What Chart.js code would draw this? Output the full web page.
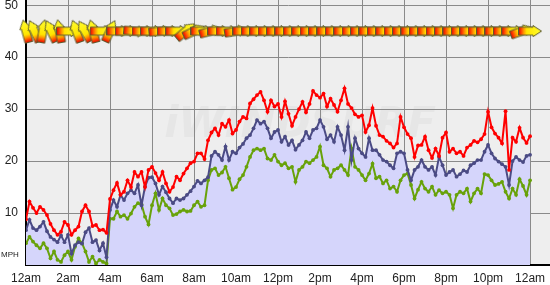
<!DOCTYPE html>
<html>
<head>
<meta charset="utf-8">
<script src="https://cdn.jsdelivr.net/npm/chart.js@4/dist/chart.umd.min.js"></script>
<style>
  html, body { margin: 0; padding: 0; background: #fff; }
  #wrap { width: 550px; height: 285px; }
</style>
</head>
<body>
<div id="wrap"><canvas id="chart"></canvas></div>
<script>
// labels on the time axis, every 2 hours
const hourLabels = ['12am','2am','4am','6am','8am','10am','12pm','2pm','4pm','6pm','8pm','10pm','12am'];

// readings every 10 minutes, 12am -> 12am (mph)
const gust = [
  8.8,12.2,11,10,11.2,10.6,  9.6,7.9,6.7,5.8,6.4,8.3,  7.7,5.8,6.7,7.4,10.3,11.5,  10.3,7.5,7.7,6.7,6.8,6.2,
  12.7,14.4,15.8,13.5,14.1,16.3,  15,17.9,17,17.9,15,18.3,  18.9,17.7,16.3,17.9,15.7,14.1,  15,17,16.3,17.6,18.6,19.6,
  19.9,21.5,21.5,20.4,24,25.5,  26.3,25,27.2,26.6,27.9,25.3,  26,27.6,28.5,28.2,31.1,31.9,  32.7,33.3,31.7,29.5,31.7,30.5,
  31,28.5,31.5,29.1,26.8,28.5,  30,31.4,29.4,31,33.5,32.7,  32.2,33,30.5,32,30.8,29.5,  31.7,34,31,30.2,29,28.5,
  28.8,25.6,26.9,30.2,26.8,25,  24.7,23.9,23.4,22.6,23.4,28.5,  26.5,25.2,24.4,20.8,23,23.1,  24.7,22.1,20.6,22.4,21,24.5,
  25.5,21.8,22.4,21.5,21.8,21,  22.6,23.1,23.9,23.6,24.2,25.2,  29.5,26.5,25.3,24.5,23.4,29.6,  18.3,24.5,23.7,26.4,24.5,23.5,24.8
];
const avg = [
  6.7,8.7,7.1,6.7,7.4,8.3,  6.5,5.4,4.9,4.4,5.7,4.4,  5.8,2.2,3.8,4.4,4.1,6.3,  7.1,4.4,4.8,2.8,4.2,1.5,
  10.6,12.5,11.2,13.5,12.5,13.8,  14.4,13.8,15.4,11.5,15.1,16.8,  16.9,15.7,13.5,15.1,14,12.8,  11.9,12.8,12.5,12.8,13.5,14.2,
  15.1,16.2,15.7,16.3,16.9,21,  21.8,21.2,20.2,22.8,20.2,21.8,  21.5,22.6,23.3,24.4,25,26.3,  27.9,27.2,27.6,26.3,24.4,25.6,
  26,23.7,24.7,23.1,24,22.2,  23.1,24,25.6,24.4,26,26.3,  27.9,26.6,24.2,25,23.7,26.6,  25,22.1,26.6,20.2,24.4,22.4,
  21.5,20.8,24.4,22.1,22.1,21.2,  20.2,19.9,19.2,18.6,21.5,21.8,  21.5,18.3,16.3,18.3,18.9,20.2,  18.9,18.3,18.9,17.3,20.8,19.2,
  17.3,17.9,18.3,17,17.5,18.2,  17.9,19.2,19.6,20.2,20.2,21.8,  23.1,21.5,20.5,19.9,19.4,18.9,  15.4,20,20.8,20.2,19.8,21,21.2
];
const lull = [
  4.2,5.4,4.5,3.8,3.2,4.2,  3.2,1.3,2.6,1,0.6,1.9,  2.6,1,3.5,5.1,4.2,2.6,  0.6,1.6,0.3,1,0.6,0.3,
  8.9,8.9,10.3,9.3,9.6,8.9,  9.9,11.2,11.9,11.7,9.3,7.8,  11.5,13.8,10.6,12.8,11.5,10.9,  9.6,9.8,10.3,10.6,10.3,10.4,
  11.5,12.2,11.2,11.5,16.3,18.3,  18.6,17.3,17.8,18.9,16.7,14.5,  15,16.5,17.3,18.9,20.8,22.1,  22.4,22.1,22.4,20.5,20.2,21.2,
  19.9,19.2,19.6,18.6,18.9,16,  18.3,18.9,19.9,19.6,20.2,20.8,  22.8,19.2,18.6,17,18.3,18.6,  19.2,18.3,17.3,22.4,18.9,18.3,
  17.3,16.3,17.6,19.5,16.7,17,  15.7,16.3,14.7,15.1,14.1,16.3,  17.3,17.6,15.4,12.8,14.5,16,  14.7,14.1,15.1,13.5,14.4,13.8,
  14.1,13.5,10.9,13.5,14.1,13.8,  14.7,12.2,13.8,14.7,13.8,17.5,  17.3,16.3,15.4,15.6,16,14.1,  12.8,14.7,13.5,16.5,15.2,13.5,16.3
];

// wind direction arrows every 24 minutes (degrees, 0 = pointing up, 90 = pointing right)
const arrowDir = [
  -15,-25,10,-25,-10,90,-20,-30,-15,90,
  25,90,90,95,90,90,85,90,90,50,
  65,90,75,90,90,80,90,90,90,90,
  90,90,90,90,90,90,90,90,90,90,
  90,90,90,90,90,90,90,90,90,90,
  90,90,90,90,90,90,90,90,90,70,
  90
];
const arrowLevel = 45;

const toPoints = arr => arr.map((v, i) => ({ x: i / 6, y: v }));
const arrowPoints = arrowDir.map((d, i) => ({ x: i * 0.4, y: arrowLevel }));

// arrow glyph, pointing up: red tail -> yellow head
function makeArrow() {
  const c = document.createElement('canvas');
  c.width = 12; c.height = 24;
  const g = c.getContext('2d');
  const grad = g.createLinearGradient(0, 24, 0, 0);
  grad.addColorStop(0, '#d00000');
  grad.addColorStop(0.12, '#ff3c00');
  grad.addColorStop(0.24, '#ff9a00');
  grad.addColorStop(0.36, '#ffe400');
  grad.addColorStop(1, '#ffff30');
  g.beginPath();
  g.moveTo(6, 0.5); g.lineTo(11.5, 9); g.lineTo(10, 9); g.lineTo(10, 23.5);
  g.lineTo(2, 23.5); g.lineTo(2, 9); g.lineTo(0.5, 9); g.closePath();
  g.fillStyle = grad;
  g.fill();
  g.strokeStyle = '#5c5a2e';
  g.lineWidth = 1;
  g.stroke();
  return c;
}
const arrowImg = makeArrow();

const plotBg = {
  id: 'plotBg',
  beforeDraw(chart) {
    const { ctx, chartArea: a } = chart;
    ctx.save();
    ctx.fillStyle = '#eeeeee';
    ctx.fillRect(a.left, a.top, a.right - a.left, a.bottom - a.top);
    // faint watermark
    ctx.fillStyle = '#e6e6e6';
    ctx.font = 'italic bold 42px "DejaVu Sans"';
    ctx.textAlign = 'center';
    ctx.textBaseline = 'middle';
    ctx.fillText('iWINDSURF', 300, 126, 285);
    ctx.restore();
  },
  afterDraw(chart) {
    const { ctx } = chart;
    ctx.save();
    ctx.fillStyle = '#222';
    ctx.font = '8px "Liberation Sans"';
    ctx.textAlign = 'left';
    ctx.textBaseline = 'middle';
    ctx.fillText('MPH', 1, 255);
    ctx.restore();
  }
};

const lineDs = (label, data, color) => ({
  label, data: toPoints(data),
  borderColor: color, backgroundColor: color,
  borderWidth: 2, pointRadius: 1.9, pointBorderWidth: 0,
  pointBackgroundColor: color, tension: 0, fill: false
});

const noPad = s => { s.paddingTop = 0; s.paddingBottom = 0; s.paddingLeft = 0; s.paddingRight = 0; };

new Chart(document.getElementById('chart'), {
  type: 'line',
  data: {
    datasets: [
      {
        label: 'Direction', data: arrowPoints, showLine: false,
        pointStyle: arrowImg, pointRadius: 12,
        rotation: ctx => arrowDir[ctx.dataIndex], clip: false
      },
      lineDs('Gust', gust, '#ff0000'),
      Object.assign(lineDs('Average', avg, '#4b4b84'), { fill: 'origin', backgroundColor: '#d5d5fb' }),
      lineDs('Lull', lull, '#68a20a')
    ]
  },
  options: {
    animation: false,
    responsive: true,
    maintainAspectRatio: false,
    layout: { padding: 0, autoPadding: false },
    plugins: {
      legend: { display: false },
      tooltip: { enabled: false },
      filler: { drawTime: 'beforeDatasetsDraw' }
    },
    scales: {
      x: {
        type: 'linear', min: 0, max: 24.95,
        afterBuildTicks: s => { s.ticks = s.ticks.filter(t => t.value % 2 === 0); },
        afterFit: s => { s.height = 20; noPad(s); },
        grid: { color: '#8a8a8a', lineWidth: 1, drawTicks: false },
        border: { color: '#000', width: 2 },
        ticks: {
          stepSize: 2, padding: 6, maxRotation: 0, autoSkip: false, includeBounds: false,
          color: '#222', font: { family: '"Liberation Sans", Arial', size: 12 },
          callback: v => hourLabels[v / 2]
        }
      },
      y: {
        min: 0, max: 51,
        afterBuildTicks: s => { s.ticks = s.ticks.filter(t => t.value % 10 === 0); },
        afterFit: s => { s.width = 26; noPad(s); },
        grid: { color: '#8a8a8a', lineWidth: 1, drawTicks: false },
        border: { color: '#000', width: 2 },
        ticks: {
          stepSize: 10, padding: 8, includeBounds: false,
          color: '#222', font: { family: '"Liberation Sans", Arial', size: 12 },
          callback: v => (v === 0 ? '' : v)
        }
      }
    }
  },
  plugins: [plotBg]
});
</script>
</body>
</html>
